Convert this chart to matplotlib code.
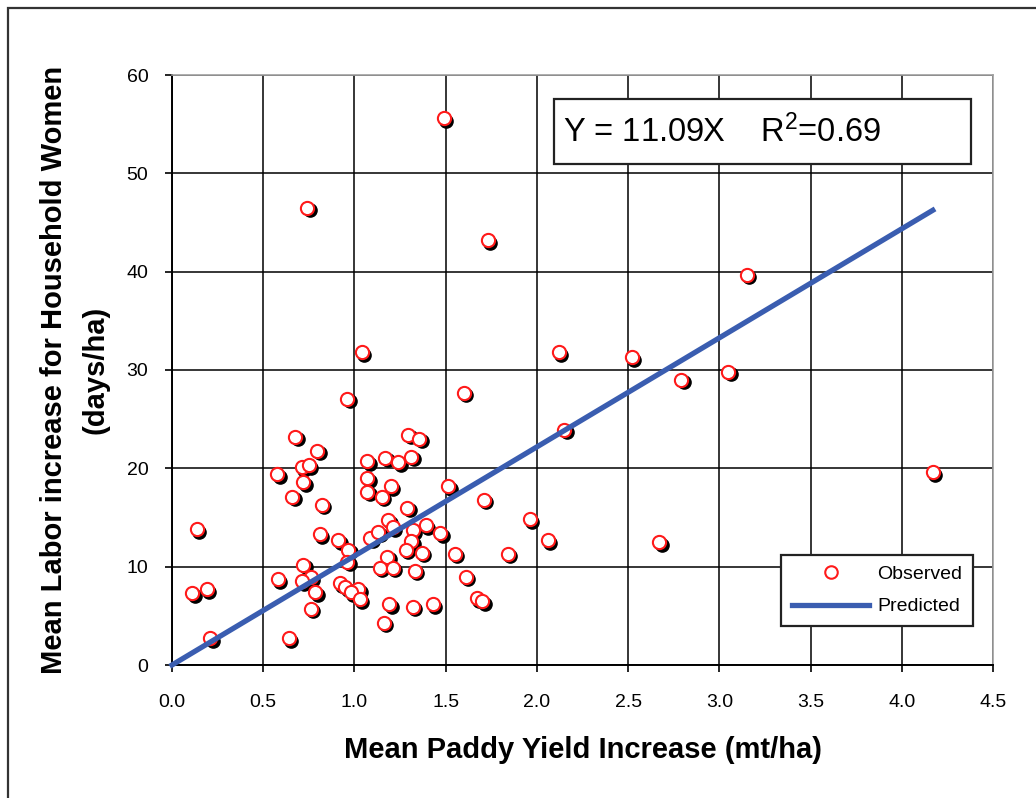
import matplotlib
matplotlib.use("Agg")
import matplotlib.pyplot as plt
import matplotlib.transforms as mtransforms
from matplotlib.patches import Rectangle
from matplotlib.lines import Line2D
import numpy as np

plt.rcParams['font.family'] = ['Liberation Sans', 'DejaVu Sans']
plt.rcParams['mathtext.default'] = 'regular'

# observed points (mt/ha, days/ha)
obs_x = [1.49, 0.74, 1.73, 3.15, 1.04, 2.12, 2.52, 2.79, 3.05, 4.17, 2.67, 2.15, 1.60, 0.96,
         0.675, 0.795, 1.295, 1.356, 1.07, 1.17, 1.24, 1.31, 0.71, 0.75, 0.576, 0.72, 1.07, 1.07,
         1.20, 1.15, 0.66, 0.82, 1.515, 1.29,
         0.137, 0.81, 0.91, 0.965, 0.96, 1.087, 1.13, 1.186, 1.21, 1.32, 1.39, 1.47, 1.31, 1.28,
         1.37, 1.18, 1.14, 1.21, 1.33, 1.55, 1.71, 1.96, 2.06, 1.84, 1.61, 1.67, 1.70,
         0.72, 0.76, 0.71, 0.58, 0.785, 0.76, 0.92, 0.95, 1.02, 0.98, 1.03, 1.19, 1.32, 1.43,
         1.16, 0.11, 0.19, 0.21, 0.64]
obs_y = [55.6, 46.5, 43.2, 39.7, 31.8, 31.8, 31.3, 29.0, 29.8, 19.6, 12.5, 23.9, 27.7, 27.1,
         23.2, 21.8, 23.4, 23.0, 20.7, 21.1, 20.6, 21.2, 20.1, 20.3, 19.4, 18.6, 19.0, 17.6,
         18.2, 17.1, 17.1, 16.3, 18.2, 16.0,
         13.8, 13.3, 12.7, 11.7, 10.5, 12.9, 13.5, 14.7, 14.0, 13.7, 14.2, 13.4, 12.6, 11.7,
         11.4, 11.0, 9.9, 9.9, 9.6, 11.3, 16.8, 14.8, 12.7, 11.3, 9.0, 6.8, 6.5,
         10.2, 8.9, 8.5, 8.7, 7.4, 5.7, 8.3, 7.9, 7.7, 7.4, 6.7, 6.2, 5.9, 6.2,
         4.3, 7.3, 7.7, 2.7, 2.7]

slope = 11.09
pred_x = [0.0, 4.17]
pred_y = [slope * v for v in pred_x]

xticks = [0.0, 0.5, 1.0, 1.5, 2.0, 2.5, 3.0, 3.5, 4.0, 4.5]
yticks = [0, 10, 20, 30, 40, 50, 60]

fig = plt.figure(figsize=(10.36, 7.98), dpi=100)
ax = fig.add_axes([172/1036, 1 - 665/798, (993-172)/1036, (665-75)/798])

# outer frame
fig.patches.append(Rectangle((8/1036, -0.05), 1.2, 1 - 8/798 + 0.05, transform=fig.transFigure,
                             fill=False, edgecolor='#333333', linewidth=1.6))

ax.set_xlim(0, 4.5)
ax.set_ylim(0, 60)
ax.set_xticks(xticks)
ax.set_xticklabels([f"{t:.1f}" for t in xticks])
ax.set_yticks(yticks)
ax.grid(True, color='black', linewidth=1.1)
ax.set_axisbelow(True)
for s in ['top', 'right']:
    ax.spines[s].set_color('#a0a0a0')
    ax.spines[s].set_linewidth(1.2)
for s in ['left', 'bottom']:
    ax.spines[s].set_color('black')
    ax.spines[s].set_linewidth(1.4)
ax.tick_params(direction='out', length=5, width=1.2, labelsize=14)
ax.tick_params(axis='x', pad=16)
ax.tick_params(axis='y', pad=12)

# shadowed open markers
shadow = mtransforms.offset_copy(ax.transData, fig=fig, x=2.5, y=-2.5, units='dots')
ax.plot(obs_x, obs_y, 'o', ms=9.5, mfc='black', mec='black', transform=shadow, zorder=3)
ax.plot(obs_x, obs_y, 'o', ms=9.5, mfc='white', mec='#ff1a1a', mew=1.5, zorder=4)
ax.plot(pred_x, pred_y, color='#3a5db0', linewidth=3.8, zorder=5, clip_on=False)

ax.set_xlabel("Mean Paddy Yield Increase (mt/ha)", fontsize=21, fontweight='bold', labelpad=18)
ax.set_ylabel("Mean Labor increase for Household Women\n(days/ha)", fontsize=21,
              fontweight='bold', labelpad=12, linespacing=1.65)

# equation box
ax.add_patch(Rectangle((0.465, 0.849), 0.508, 0.11, transform=ax.transAxes,
                       facecolor='white', edgecolor='#222222', linewidth=1.6, zorder=6))
ax.text(0.476, 0.904, "Y = 11.09X    R$^2$=0.69", transform=ax.transAxes,
        fontsize=23.5, va='center', ha='left', zorder=7)

handles = [Line2D([], [], marker='o', ls='none', ms=9, mfc='white', mec='#ff1a1a', mew=1.5),
           Line2D([], [], color='#3a5db0', linewidth=3.8)]
leg = ax.legend(handles, ['Observed', 'Predicted'], loc='lower right',
                bbox_to_anchor=(0.9756, 0.066), borderaxespad=0, fontsize=14,
                fancybox=False, framealpha=1, edgecolor='#222222', handlelength=4.0,
                handletextpad=0.4, borderpad=0.55, labelspacing=0.75)
leg.get_frame().set_linewidth(1.6)
leg.set_zorder(8)

fig.savefig("out.png", dpi=100)
